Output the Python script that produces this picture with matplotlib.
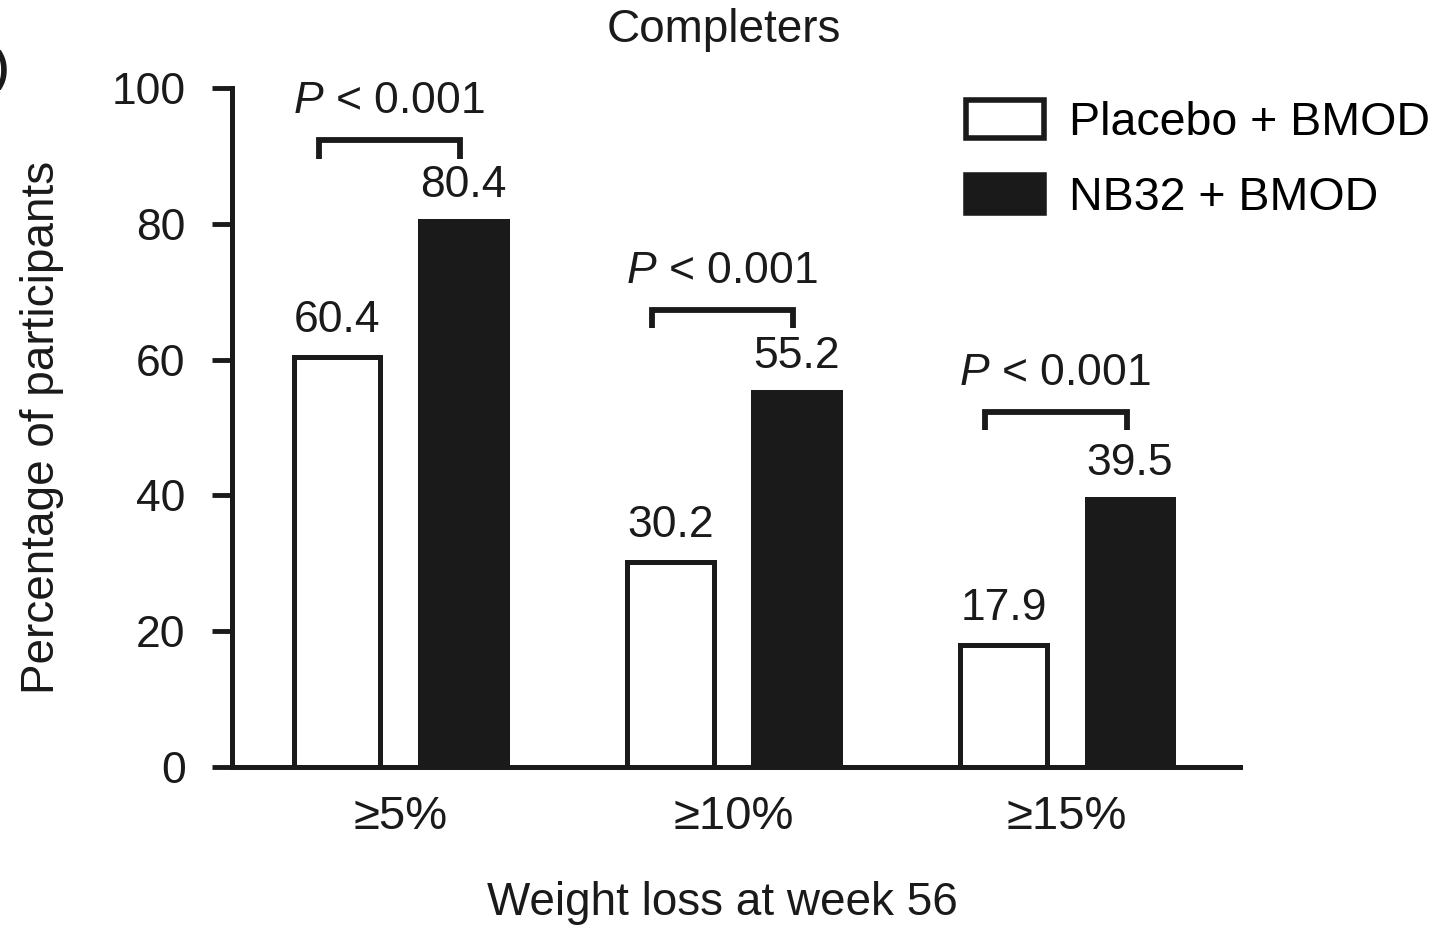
import matplotlib
matplotlib.use("Agg")
import matplotlib.pyplot as plt
from matplotlib.patches import Patch
import numpy as np

plt.rcParams['font.family'] = ['Liberation Sans', 'DejaVu Sans']
plt.rcParams['mathtext.fontset'] = 'custom'
plt.rcParams['mathtext.rm'] = 'Liberation Sans'
plt.rcParams['mathtext.it'] = 'Liberation Sans:italic'

# data
categories = ['≥5%', '≥10%', '≥15%']
placebo = [60.4, 30.2, 17.9]
nb32 = [80.4, 55.2, 39.5]
p_labels = ['$\\it{P}$ < 0.001', '$\\it{P}$ < 0.001', '$\\it{P}$ < 0.001']
series_names = ['Placebo + BMOD', 'NB32 + BMOD']

# bracket height above the black bar (layout only)
bracket_gap = [11.9, 12.1, 12.8]

fig = plt.figure(figsize=(14.35, 9.26), dpi=100)
ax = fig.add_axes([232 / 1435, 1 - 767 / 926, (1240 - 232) / 1435, (767 - 88) / 926])

x = np.arange(len(categories))
w = 0.26
off = 0.19
ink = '#1a1a1a'
ax.bar(x - off, placebo, w, color='white', edgecolor=ink, linewidth=3.6)
ax.bar(x + off, nb32, w, color=ink, edgecolor=ink, linewidth=3.6)

# value labels
for xi, v in zip(x - off, placebo):
    ax.text(xi, v + 5.4, f'{v:.1f}', ha='center', va='center', fontsize=32, color=ink)
for xi, v in zip(x + off, nb32):
    ax.text(xi, v + 5.2, f'{v:.1f}', ha='center', va='center', fontsize=32, color=ink)

# significance brackets
for xi, v, lab, g in zip(x, nb32, p_labels, bracket_gap):
    yb = v + g
    ax.plot([xi - 0.245, xi - 0.245, xi + 0.18, xi + 0.18],
            [yb - 2.7, yb, yb, yb - 2.7], color=ink, lw=4.2,
            solid_capstyle='butt', solid_joinstyle='miter', clip_on=False)
    ax.text(xi - 0.035, yb + 5.7, lab, ha='center', va='center', fontsize=32, color=ink)

ax.set_xlim(-0.505, 2.52)
ax.set_ylim(0, 100)
ax.set_yticks([0, 20, 40, 60, 80, 100])
ax.set_xticks(x)
ax.set_xticklabels(categories)
ax.tick_params(axis='y', direction='out', length=14.4, width=3.5, pad=19,
               labelsize=32, colors=ink)
ax.tick_params(axis='x', length=0, pad=20, labelsize=34, colors=ink)
for s in ['top', 'right']:
    ax.spines[s].set_visible(False)
for s in ['left', 'bottom']:
    ax.spines[s].set_linewidth(3.6)
    ax.spines[s].set_color(ink)
    ax.spines[s].set_capstyle('projecting')

ax.set_ylabel('Percentage of participants', fontsize=33, color=ink, labelpad=34)
fig.text(722 / 1435, 1 - 903 / 926, 'Weight loss at week 56', ha='center', va='center',
         fontsize=33, color=ink)
fig.text(724 / 1435, 1 - 30 / 926, 'Completers', ha='center', va='center',
         fontsize=33, color=ink)
fig.text(0.001, 1 - 70 / 926, ')', ha='center', va='center', fontsize=30,
         fontweight='bold', color=ink)

handles = [Patch(facecolor='white', edgecolor=ink, linewidth=4.0),
           Patch(facecolor=ink, edgecolor=ink, linewidth=4.0)]
fig.legend(handles, series_names, loc='upper left',
           bbox_to_anchor=(966 / 1435, 1 - 100 / 926), frameon=False,
           fontsize=33.5, handlelength=1.67, handleheight=0.87,
           handletextpad=0.55, labelspacing=0.65, borderpad=0, borderaxespad=0)

fig.savefig('out.png', dpi=100)
